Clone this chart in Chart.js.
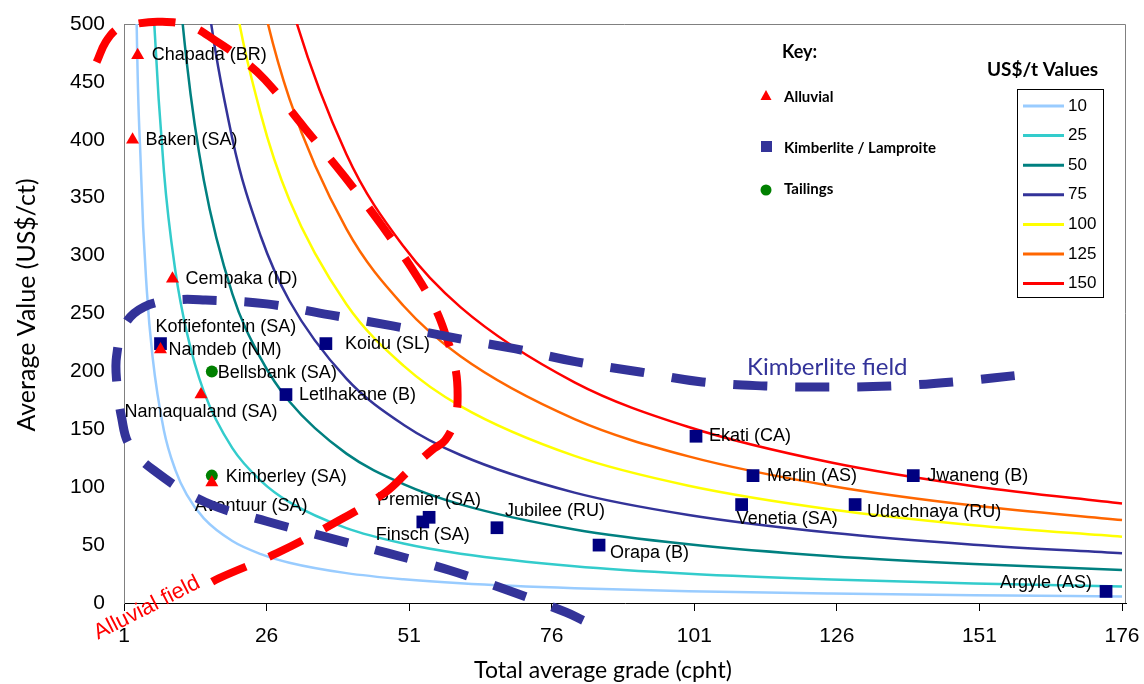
<!DOCTYPE html>
<html>
<head>
<meta charset="utf-8">
<title>Diamond deposits: grade vs average value</title>
<script src="https://cdn.jsdelivr.net/npm/chart.js@4.4.1/dist/chart.umd.min.js"></script>
<style>
  html, body { margin: 0; padding: 0; background: #fff; }
</style>
</head>
<body>
<canvas id="chart" width="1144" height="684"></canvas>
<script>
// grade samples (cpht) for the iso-value curves
const GRADE = [2, 3, 4, 5, 6, 8, 10, 12, 15, 20, 25, 30, 40, 50, 60, 80, 100, 125, 150, 176];

// average value (US$/ct) read along each US$/t curve
const CURVE_LABELS = ["10", "25", "50", "75", "100", "125", "150"];
const VAL_10  = [1429, 588, 370, 270, 213, 149, 115, 93.5, 73, 53.5, 42.2, 34.8, 25.8, 20.5, 17, 12.7, 10.1, 8.1, 6.7, 5.7];
const VAL_25  = [3571, 1471, 926, 676, 532, 373, 287, 234, 182.5, 133.7, 105.5, 87.1, 64.6, 51.3, 42.6, 31.8, 25.3, 20.2, 16.8, 14.3];
const VAL_50  = [7143, 2941, 1852, 1351, 1064, 746, 575, 467, 365, 267, 211, 174, 129, 102.7, 85.2, 63.5, 50.7, 40.4, 33.6, 28.6];
const VAL_75  = [10714, 4412, 2778, 2027, 1596, 1119, 862, 701, 547, 401, 316.5, 261, 193.8, 154, 127.8, 95.3, 76, 60.6, 50.4, 42.9];
const VAL_100 = [14286, 5882, 3704, 2703, 2128, 1493, 1149, 935, 730, 535, 422, 348, 258, 205, 170, 127, 101.3, 80.8, 67.2, 57.2];
const VAL_125 = [17857, 7353, 4630, 3378, 2660, 1866, 1437, 1168, 912, 668, 527, 435.5, 323, 256.7, 213, 158.8, 126.6, 101.1, 84.1, 71.6];
const VAL_150 = [21429, 8824, 5556, 4054, 3191, 2239, 1724, 1402, 1095, 802, 633, 522.6, 387.6, 308, 255.5, 190.6, 152, 121.3, 100.9, 85.9];

// deposits
const ALLUVIAL_NAMES = ["Chapada (BR)", "Baken (SA)", "Cempaka (ID)", "Namdeb (NM)", "Namaqualand (SA)", "Avontuur (SA)"];
const ALLUVIAL_GRADE = [3.4, 2.5, 9.5, 7.4, 14.5, 16.4];
const ALLUVIAL_VALUE = [473, 400, 280, 219, 180, 104];

const KIMB_NAMES = ["Koffiefontein (SA)", "Koidu (SL)", "Letlhakane (B)", "Ekati (CA)", "Merlin (AS)", "Jwaneng (B)",
  "Venetia (SA)", "Udachnaya (RU)", "Premier (SA)", "Finsch (SA)", "Jubilee (RU)", "Orapa (B)", "Argyle (AS)"];
const KIMB_GRADE = [7.4, 36.4, 29.4, 101.3, 111.3, 139.4, 109.3, 129.2, 54.5, 53.4, 66.4, 84.3, 173.2];
const KIMB_VALUE = [224, 224, 180, 144, 110, 110, 85, 85, 74, 70, 65, 50, 10];

const TAIL_NAMES = ["Bellsbank (SA)", "Kimberley (SA)"];
const TAIL_GRADE = [16.4, 16.4];
const TAIL_VALUE = [200, 110];

// outlines of the two fields
const ALLUVIAL_FIELD_X = [-3.8, -2.2, -0.1, 2.9, 7.3, 12.5, 17.1, 21.3, 25.7, 32.7, 39.7, 46.2, 52.5, 55.7, 57.3, 59.0, 59.5, 59.0, 57.3, 55.0, 51.1, 46.7, 37.1, 27.8, 17.6, 14.8];
const ALLUVIAL_FIELD_Y = [467, 484.5, 496, 500, 502, 498.4, 485.5, 471, 452, 410, 368, 326, 281, 253, 233, 205.5, 179.5, 158, 140.5, 132, 115, 95, 67, 43, 21.3, 13.5];
const KIMB_FIELD_X = [81.5, 78.5, 68.3, 58.1, 47.3, 36.5, 26.0, 15.3, 6.2, 2.0, 0.6, -0.3, -0.3, 1.1, 4.5, 9.9, 15.3, 26.0, 37.1, 48.1, 59.0, 69.7, 80.4, 91.5, 102.4, 113.4, 124.3, 135.4, 146.3, 160.3];
const KIMB_FIELD_Y = [-15, -8, 11, 28.3, 43, 56.8, 70.6, 87, 114.7, 136, 159.6, 192.5, 213.2, 240, 255.6, 261.6, 261.7, 258.3, 248.8, 239.3, 228.9, 219.4, 208.2, 199.5, 190.9, 187.4, 186.5, 187.4, 190.9, 198];

const X_TICKS = [1, 26, 51, 76, 101, 126, 151, 176];

// styles
const CURVE_COLORS = ["#99CCFF", "#33CCCC", "#008080", "#333399", "#FFFF00", "#FF6600", "#FF0000"];
const LABEL_POS = {
  "Chapada (BR)": [14, 0, "left"], "Baken (SA)": [13, 0, "left"], "Cempaka (ID)": [13, 0, "left"],
  "Namdeb (NM)": [8, 1, "left"], "Namaqualand (SA)": [0, 17, "center"], "Avontuur (SA)": [-17, 23, "left"],
  "Koffiefontein (SA)": [-5, -17, "left"], "Koidu (SL)": [19, 0, "left"], "Letlhakane (B)": [13, 0, "left"],
  "Ekati (CA)": [13, 0, "left"], "Merlin (AS)": [14, 0, "left"], "Jwaneng (B)": [14, 0, "left"],
  "Venetia (SA)": [-5, 14, "left"], "Udachnaya (RU)": [12, 7, "left"], "Premier (SA)": [0, -17, "center"],
  "Finsch (SA)": [0, 13, "center"], "Jubilee (RU)": [8, -17, "left"], "Orapa (B)": [11, 8, "left"],
  "Argyle (AS)": [-14, -8, "right"], "Bellsbank (SA)": [6, 2, "left"], "Kimberley (SA)": [14, 1, "left"]
};

const zip = (xs, ys) => xs.map((x, i) => ({ x: x, y: ys[i] }));
const curveValues = [VAL_10, VAL_25, VAL_50, VAL_75, VAL_100, VAL_125, VAL_150];

const datasets = [
  { label: "Kimberlite field", data: zip(KIMB_FIELD_X, KIMB_FIELD_Y), showLine: true, borderColor: "#333399",
    borderWidth: 9, borderDash: [34, 28], pointRadius: 0, tension: 0.4, clip: false, fill: false },
  { label: "Alluvial field", data: zip(ALLUVIAL_FIELD_X, ALLUVIAL_FIELD_Y), showLine: true, borderColor: "#FF0000",
    borderWidth: 8, borderDash: [37, 25], pointRadius: 0, tension: 0.4, clip: false, fill: false },
  { label: "Alluvial", names: ALLUVIAL_NAMES, data: zip(ALLUVIAL_GRADE, ALLUVIAL_VALUE), pointStyle: "triangle",
    pointRadius: 7.5, backgroundColor: "#FF0000", borderColor: "#FF0000", borderWidth: 0 },
  { label: "Kimberlite / Lamproite", names: KIMB_NAMES, data: zip(KIMB_GRADE, KIMB_VALUE), pointStyle: "rect",
    pointRadius: 9, backgroundColor: "#000080", borderColor: "#000080", borderWidth: 0 },
  { label: "Tailings", names: TAIL_NAMES, data: zip(TAIL_GRADE, TAIL_VALUE), pointStyle: "circle",
    pointRadius: 6, backgroundColor: "#008000", borderColor: "#008000", borderWidth: 0 }
];
for (let i = curveValues.length - 1; i >= 0; i--) {
  datasets.push({
    label: CURVE_LABELS[i], data: zip(GRADE, curveValues[i]), showLine: true,
    borderColor: CURVE_COLORS[i], borderWidth: 2.5, pointRadius: 0, cubicInterpolationMode: "monotone", fill: false
  });
}

const SANS = '"Liberation Sans", Arial, sans-serif';
const GILL = 'Lato, "Open Sans", sans-serif';

// labels next to the deposits, drawn before the field outlines
const pointLabels = {
  id: "pointLabels",
  afterDatasetDraw(chart, args) {
    if (args.index !== 2) return;
    const ctx = chart.ctx;
    ctx.save();
    ctx.font = "18px " + SANS;
    ctx.fillStyle = "#000";
    ctx.textBaseline = "middle";
    [2, 3, 4].forEach(i => {
      const names = chart.data.datasets[i].names;
      chart.getDatasetMeta(i).data.forEach((pt, j) => {
        const p = LABEL_POS[names[j]];
        ctx.textAlign = p[2];
        ctx.fillText(names[j], pt.x + p[0], pt.y + p[1]);
      });
    });
    ctx.restore();
  }
};

const decorations = {
  id: "decorations",
  beforeDatasetsDraw(chart) {
    const { ctx, chartArea: a } = chart;
    ctx.save();
    ctx.strokeStyle = "#808080";
    ctx.lineWidth = 1;
    ctx.beginPath();
    ctx.moveTo(a.left, a.top + 0.5);
    ctx.lineTo(a.right - 0.5, a.top + 0.5);
    ctx.lineTo(a.right - 0.5, a.bottom);
    ctx.stroke();
    ctx.restore();
  },
  afterDraw(chart) {
    const { ctx } = chart;
    ctx.save();
    // axis titles
    ctx.fillStyle = "#000";
    ctx.textAlign = "center";
    ctx.textBaseline = "middle";
    ctx.font = "23px " + GILL;
    ctx.fillText("Total average grade (cpht)", 603, 671);
    ctx.save();
    ctx.translate(27, 305);
    ctx.rotate(-Math.PI / 2);
    ctx.font = "25px " + GILL;
    ctx.fillText("Average Value (US$/ct)", 0, 0);
    ctx.restore();

    // field names
    ctx.font = "24px " + GILL;
    ctx.fillStyle = "#333399";
    ctx.textAlign = "left";
    ctx.fillText("Kimberlite field", 747, 367);
    ctx.save();
    ctx.translate(147, 608);
    ctx.rotate(-27 * Math.PI / 180);
    ctx.font = "22px " + SANS;
    ctx.fillStyle = "#FF0000";
    ctx.textAlign = "center";
    ctx.fillText("Alluvial field", 0, 0);
    ctx.restore();

    // key
    ctx.fillStyle = "#000";
    ctx.font = "bold 18px " + GILL;
    ctx.fillText("Key:", 782, 52);
    ctx.font = "bold 15px " + GILL;
    const keyRows = [["Alluvial", 97], ["Kimberlite / Lamproite", 148], ["Tailings", 189]];
    keyRows.forEach(r => ctx.fillText(r[0], 784, r[1]));
    ctx.fillStyle = "#FF0000";
    ctx.beginPath();
    ctx.moveTo(766, 90); ctx.lineTo(771.5, 100); ctx.lineTo(760.5, 100); ctx.closePath(); ctx.fill();
    ctx.fillStyle = "#333399";
    ctx.fillRect(761, 141, 11, 11);
    ctx.fillStyle = "#008000";
    ctx.beginPath(); ctx.arc(766, 190, 5.5, 0, Math.PI * 2); ctx.fill();

    // US$/t legend
    ctx.fillStyle = "#000";
    ctx.font = "bold 19px " + GILL;
    ctx.textAlign = "left";
    ctx.fillText("US$/t Values", 987, 70);
    ctx.strokeStyle = "#000";
    ctx.lineWidth = 1;
    ctx.strokeRect(1017.5, 89.5, 86, 208);
    ctx.font = "17px " + SANS;
    CURVE_LABELS.forEach((lab, i) => {
      const y = 106 + i * 29.6;
      ctx.strokeStyle = CURVE_COLORS[i];
      ctx.lineWidth = 3;
      ctx.beginPath(); ctx.moveTo(1023, y); ctx.lineTo(1064, y); ctx.stroke();
      ctx.fillStyle = "#000";
      ctx.fillText(lab, 1068, y);
    });
    ctx.restore();
  }
};

// drop the label overflow padding so the plot area follows layout.padding
const noOverflow = s => { s.paddingTop = 0; s.paddingBottom = 0; s.paddingLeft = 0; s.paddingRight = 0; };

new Chart(document.getElementById("chart"), {
  type: "scatter",
  data: { datasets: datasets },
  options: {
    responsive: false,
    animation: false,
    layout: { padding: { top: 24, right: 18, left: 0, bottom: 0 } },
    plugins: { legend: { display: false }, tooltip: { enabled: false } },
    scales: {
      x: {
        type: "linear", min: 1, max: 176.7,
        afterBuildTicks: s => { s.ticks = X_TICKS.map(v => ({ value: v })); },
        afterFit: s => { s.height = 81; noOverflow(s); },
        ticks: { font: { family: "Liberation Sans", size: 21 }, color: "#000", padding: 13, maxRotation: 0 },
        grid: { drawOnChartArea: false, drawTicks: true, tickLength: 8, color: "#000" },
        border: { color: "#000", width: 1 }
      },
      y: {
        min: 0, max: 500,
        afterFit: s => { s.width = 124; noOverflow(s); },
        ticks: { stepSize: 50, font: { family: "Liberation Sans", size: 21 }, color: "#000", padding: 19 },
        grid: { drawOnChartArea: false, drawTicks: false },
        border: { color: "#808080", width: 1 }
      }
    }
  },
  plugins: [pointLabels, decorations]
});
</script>
</body>
</html>
